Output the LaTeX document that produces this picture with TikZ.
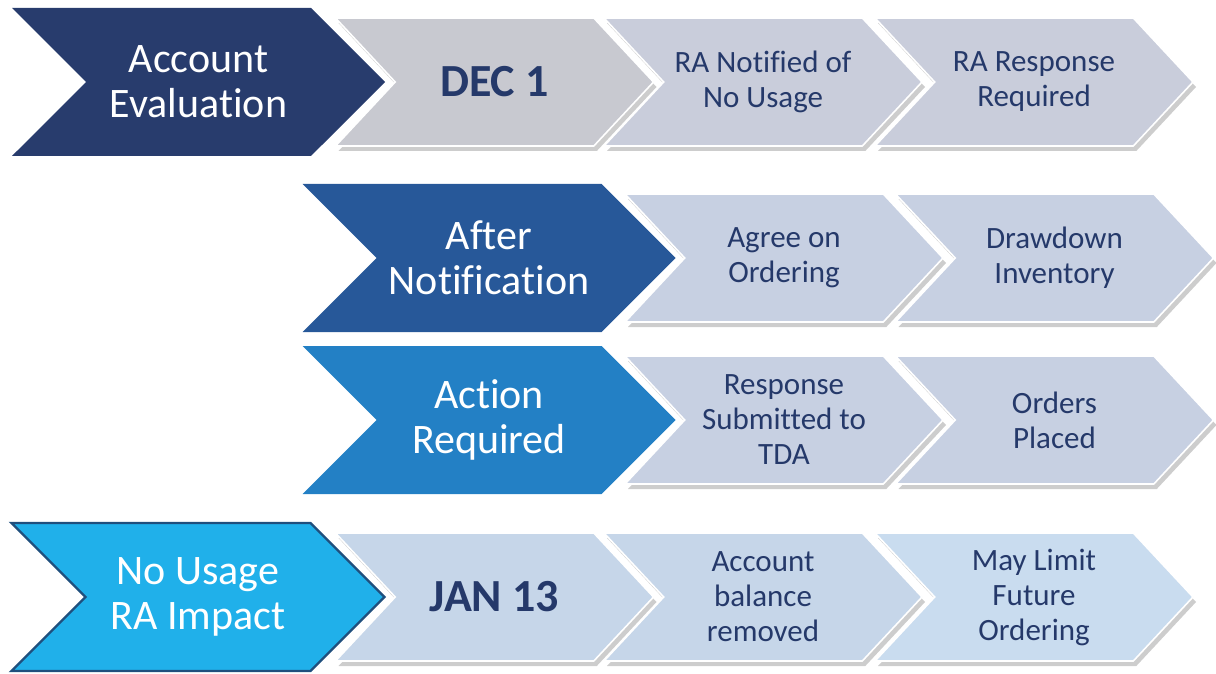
\documentclass[tikz,border=0pt]{standalone}
\usepackage{fontspec}
\setmainfont{Carlito}[Ligatures=NoCommon]
\usetikzlibrary{shapes.symbols,shadows}
\definecolor{navyA}{HTML}{283C6D}
\definecolor{blueB}{HTML}{275899}
\definecolor{blueC}{HTML}{2380C5}
\definecolor{cyanD}{HTML}{20B0EA}
\definecolor{rimD}{HTML}{1F4F7D}
\definecolor{greyA}{HTML}{C8C9D0}
\definecolor{greyB}{HTML}{C9CDDB}
\definecolor{paleB}{HTML}{C7D0E2}
\definecolor{paleD}{HTML}{C6D6E9}
\definecolor{paleE}{HTML}{C9DCEF}
\definecolor{inkA}{HTML}{25396A}
\tikzset{
  bigchev/.style={signal, signal from=west, signal to=east, signal pointer angle=90,
    minimum width=186.5pt, minimum height=74pt, inner sep=0pt, align=center,
    text=white, font=\fontsize{21}{22.5}\selectfont},
  greychev/.style={signal, signal from=west, signal to=east, signal pointer angle=94,
    minimum width=159pt, minimum height=64pt, inner sep=0pt, align=center,
    draw=white, line width=0.8pt, text=inkA, font=\fontsize{15.5}{17.5}\selectfont,
    drop shadow={shadow xshift=1.5pt, shadow yshift=-2.5pt, opacity=.28, fill=black!70}},
  datetxt/.style={font=\fontsize{23}{25}\selectfont\bfseries}
}
\begin{document}
\begin{tikzpicture}[x=0.5pt,y=-0.5pt]
	\useasboundingbox (0,0) rectangle (1216,674);
	% row 1
	\node[bigchev, fill=navyA] (evaluation) at (198.5,82) {Account\\Evaluation};
	\node[greychev, fill=greyA, datetxt] (dec) at (494.5,82) {DEC 1};
	\node[greychev, fill=greyB] (notified) at (763,82) {RA Notified of\\No Usage};
	\node[greychev, fill=greyB] (reqresp) at (1034,82) {RA Response\\Required};
	% row 2
	\node[bigchev, fill=blueB] (afternote) at (489,258) {After\\Notification};
	\node[greychev, fill=paleB] (agree) at (784,258) {Agree on\\Ordering};
	\node[greychev, fill=paleB] (drawdown) at (1054.5,258) {Drawdown\\Inventory};
	% row 3
	\node[bigchev, fill=blueC] (action) at (489,420) {Action\\Required};
	\node[greychev, fill=paleB] (submitted) at (784,420) {Response\\Submitted to\\TDA};
	\node[greychev, fill=paleB] (orders) at (1054.5,420) {Orders\\Placed};
	% row 4
	\node[bigchev, fill=cyanD, draw=rimD, line width=1.2pt] (impact) at (198,597) {No Usage\\RA Impact};
	\node[greychev, fill=paleD, datetxt] (jan) at (494.5,597) {JAN 13};
	\node[greychev, fill=paleD] (removed) at (763,597) {Account\\balance\\removed};
	\node[greychev, fill=paleE] (limit) at (1034,597) {May Limit\\Future\\Ordering};
\end{tikzpicture}
\end{document}
